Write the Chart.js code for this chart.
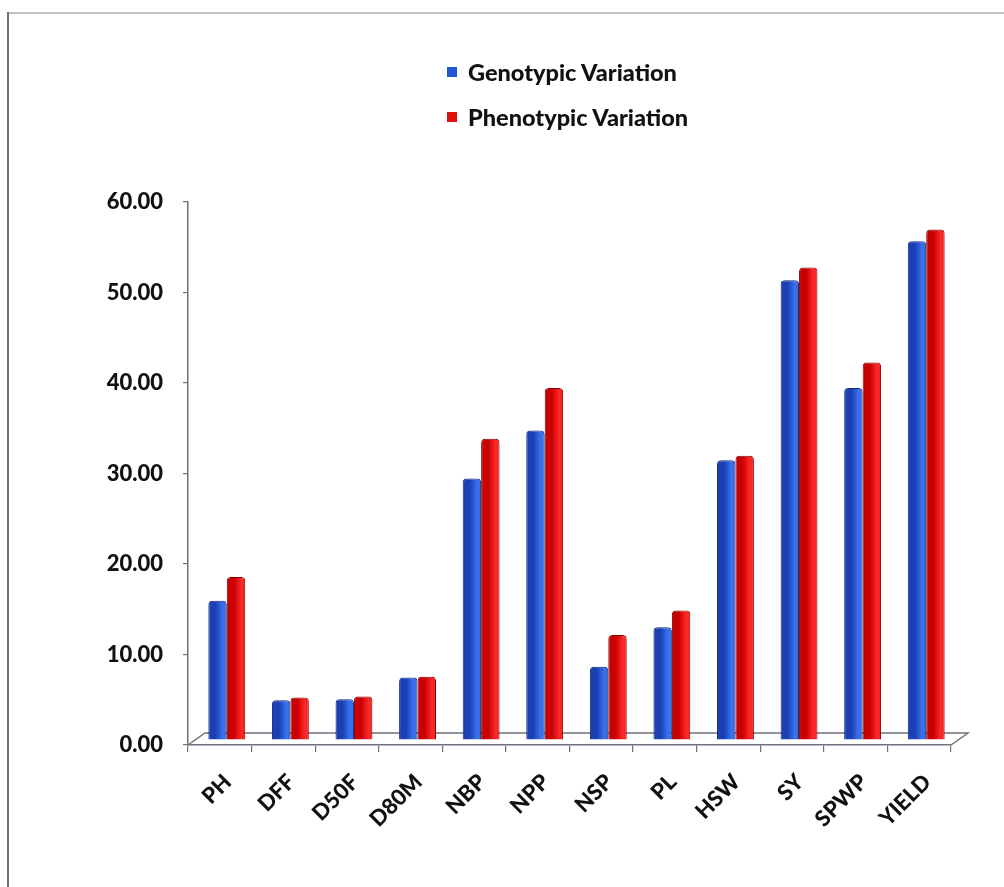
<!DOCTYPE html>
<html>
<head>
<meta charset="utf-8">
<script src="https://cdn.jsdelivr.net/npm/chart.js@4.4.1/dist/chart.umd.min.js"></script>
<style>
  html, body { margin: 0; padding: 0; background: #fff; }
  #wrap { position: relative; width: 1004px; height: 887px; background: #fff; overflow: hidden; }
  #frameTop { position: absolute; left: 7px; top: 12px; width: 997px; height: 2px; background: #c4c4c4; }
  #frameLeft { position: absolute; left: 7px; top: 12px; width: 2px; height: 875px; background: #707070; }
  #legend { position: absolute; left: 447px; top: 58px; font-family: Lato, "Open Sans", sans-serif; font-weight: 900; font-size: 23.5px; color: #111; }
  .row { display: flex; align-items: center; height: 28px; margin-bottom: 17px; white-space: nowrap; }
  .sw { width: 10px; height: 10px; margin-right: 11px; }
  canvas { position: absolute; left: 0; top: 0; }
</style>
</head>
<body>
<div id="wrap">
  <canvas id="c" width="1004" height="887"></canvas>
  <div id="frameTop"></div>
  <div id="frameLeft"></div>
  <div id="legend"></div>
</div>
<script>
// Traits measured in the trial
const traits = ['PH', 'DFF', 'D50F', 'D80M', 'NBP', 'NPP', 'NSP', 'PL', 'HSW', 'SY', 'SPWP', 'YIELD'];
// Coefficients of variation (%)
const genotypic = [15.4, 4.4, 4.5, 6.9, 28.9, 34.2, 8.1, 12.45, 30.9, 50.8, 38.9, 55.1];
const phenotypic = [18.0, 4.7, 4.8, 7.0, 33.3, 38.9, 11.6, 14.3, 31.4, 52.2, 41.7, 56.4];
const seriesNames = ['Genotypic Variation', 'Phenotypic Variation'];
const yTicks = { min: 0, max: 60, step: 10 };

const palette = [
  { edge: '#1b3fb4', mid: '#3a74f0', line: '#10287e', swatch: '#1f5ad8' },
  { edge: '#c80000', mid: '#ff2a2a', line: '#860000', swatch: '#e01010' }
];

const FONT = 'Lato, "Open Sans", sans-serif';
const CAT_PCT = 0.58;
const DEPTH_X = 17, DEPTH_Y = 12;      // floor depth
const BAR_DX = 7, BAR_DY = -5;         // columns sit mid-depth on the floor

// Horizontal shading across each column, so it reads as a cylinder
function cylinderFill(di) {
  return (context) => {
    const chart = context.chart;
    const xs = chart.scales && chart.scales.x;
    const p = palette[di];
    if (!xs || context.dataIndex === undefined) return p.mid;
    const c = xs.getPixelForValue(context.dataIndex);
    const w = (xs.width / traits.length) * CAT_PCT / 2;
    const x0 = (di === 0 ? c - w : c) + BAR_DX;
    if (!isFinite(x0) || !isFinite(w) || w <= 0) return p.mid;
    const g = chart.ctx.createLinearGradient(x0, 0, x0 + w, 0);
    g.addColorStop(0, p.edge);
    g.addColorStop(0.42, p.mid);
    g.addColorStop(1, p.edge);
    return g;
  };
}

// Floor outline under the columns, and the depth offset of the columns
const depthPlugin = {
  id: 'depth',
  beforeDatasetsDraw(chart) {
    const { ctx, chartArea: a } = chart;
    ctx.save();
    ctx.strokeStyle = '#6f7080';
    ctx.lineWidth = 1.5;
    ctx.beginPath();
    ctx.moveTo(a.left, a.bottom);
    ctx.lineTo(a.left + DEPTH_X, a.bottom - DEPTH_Y);
    ctx.lineTo(a.right + DEPTH_X, a.bottom - DEPTH_Y);
    ctx.lineTo(a.right, a.bottom);
    ctx.stroke();
    ctx.restore();
    ctx.save();
    ctx.translate(BAR_DX, BAR_DY);
  },
  afterDatasetsDraw(chart) {
    chart.ctx.restore();
  }
};

const chart = new Chart(document.getElementById('c'), {
  type: 'bar',
  data: {
    labels: traits,
    datasets: [
      { label: seriesNames[0], data: genotypic, backgroundColor: cylinderFill(0), borderColor: palette[0].line },
      { label: seriesNames[1], data: phenotypic, backgroundColor: cylinderFill(1), borderColor: palette[1].line }
    ]
  },
  options: {
    responsive: false,
    animation: false,
    devicePixelRatio: 1,
    layout: { padding: { left: 0, top: 202, right: 53, bottom: 0 } },
    datasets: {
      bar: {
        categoryPercentage: CAT_PCT,
        barPercentage: 1.0,
        borderWidth: 1,
        borderRadius: { topLeft: 4, topRight: 4 },
        borderSkipped: 'bottom'
      }
    },
    plugins: {
      legend: { display: false },
      tooltip: { enabled: false }
    },
    scales: {
      x: {
        grid: { display: true, drawOnChartArea: false, offset: true, color: '#6f7080', tickLength: 7, lineWidth: 1.2 },
        border: { display: true, color: '#6f7080', width: 1.5 },
        ticks: {
          color: '#111',
          font: { family: FONT, weight: 900, size: 22 },
          minRotation: 45, maxRotation: 45, autoSkip: false, padding: 17, labelOffset: 8
        },
        afterFit(scale) { scale.height = 142; }
      },
      y: {
        min: yTicks.min, max: yTicks.max,
        grid: { display: true, drawOnChartArea: false, color: '#6f7080', tickLength: 5, lineWidth: 1.2 },
        border: { display: true, color: '#6f7080', width: 1.5 },
        ticks: {
          stepSize: yTicks.step,
          color: '#111',
          padding: 20,
          font: { family: FONT, weight: 900, size: 22 },
          callback: v => Number(v).toFixed(2)
        },
        afterFit(scale) { scale.width = 188; }
      }
    }
  },
  plugins: [depthPlugin]
});

// Legend rows built from the dataset definitions
const legend = document.getElementById('legend');
chart.data.datasets.forEach((ds, i) => {
  const row = document.createElement('div');
  row.className = 'row';
  const sw = document.createElement('span');
  sw.className = 'sw';
  sw.style.background = palette[i].swatch;
  const tx = document.createElement('span');
  tx.textContent = ds.label;
  row.appendChild(sw);
  row.appendChild(tx);
  legend.appendChild(row);
});
</script>
</body>
</html>
